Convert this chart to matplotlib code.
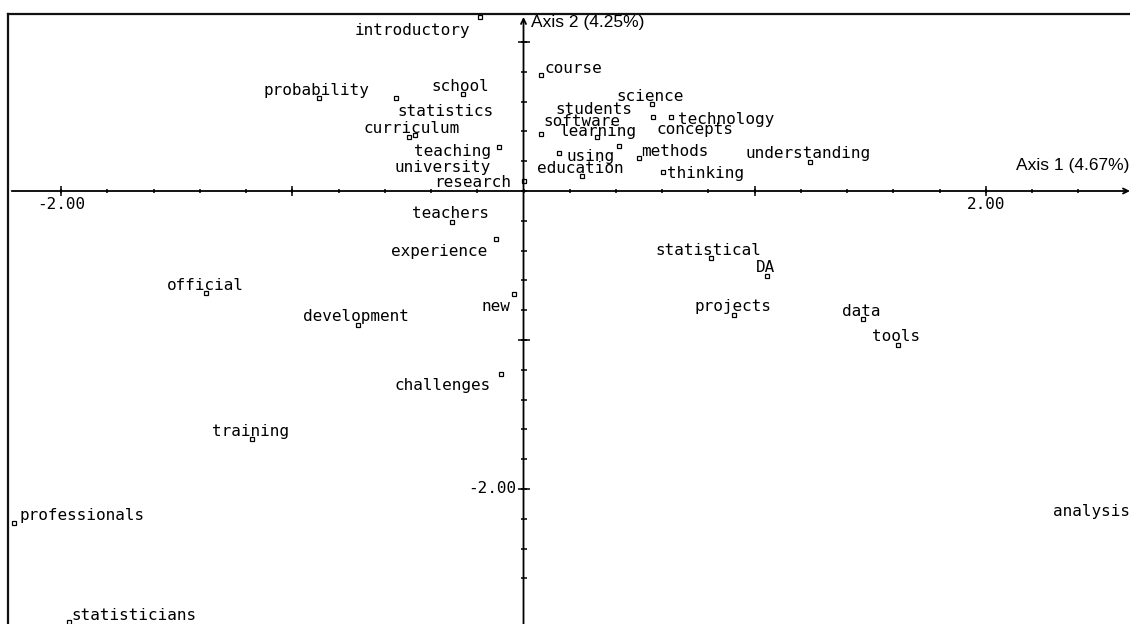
import matplotlib
matplotlib.use("Agg")
import matplotlib.pyplot as plt
import numpy as np

# ---------------- data ----------------
words = ["introductory", "probability", "statistics", "school", "curriculum",
         "university", "teaching", "research", "course", "science", "students",
         "technology", "software", "learning", "concepts", "methods", "using",
         "education", "thinking", "understanding", "teachers", "experience",
         "official", "development", "new", "challenges", "statistical", "DA",
         "projects", "data", "tools", "training", "professionals",
         "statisticians", "analysis"]

axis1 = [-0.190, -0.885, -0.550, -0.262, -0.495, -0.468, -0.105, 0.003,
         0.076, 0.554, 0.559, 0.637, 0.076, 0.317, 0.414, 0.498, 0.154,
         0.255, 0.602, 1.239, -0.310, -0.117, -1.372, -0.716, -0.040,
         -0.099, 0.811, 1.054, 0.910, 1.468, 1.619, -1.175, -2.202,
         -1.966, 2.700]

axis2 = [1.166, 0.622, 0.622, 0.649, 0.364, 0.376, 0.297, 0.067,
         0.779, 0.584, 0.495, 0.495, 0.381, 0.360, 0.304, 0.219, 0.253,
         0.103, 0.130, 0.193, -0.206, -0.324, -0.683, -0.899, -0.693,
         -1.228, -0.452, -0.570, -0.832, -0.859, -1.034, -1.666, -2.226,
         -2.891, -2.208]

axis1_title = "Axis 1 (4.67%)"
axis2_title = "Axis 2 (4.25%)"

x_tick_labels = {-2: "-2.00", 2: "2.00"}
y_tick_labels = {-2: "-2.00"}

# ---------------- layout (label offsets in pixels) ----------------
label_offsets = [(-67, -13.4), (-2, 8.3), (49.6, -12.7), (-2.2, 7.6), (2.6, 8.4),
                 (27, -33), (-46.8, -5), (-51.1, -1.7), (32.2, 6.7), (-1.9, 7.3),
                 (-58.4, 7.3), (55.2, -2), (41.2, 12.6), (1.9, 5.6), (75.5, 16.4),
                 (36.2, 6.6), (31.3, -2.7), (-2.1, 7.4), (43.2, -2.3), (-1.6, 8.3),
                 (-1, 7.7), (-57.4, -12.4), (-1.4, 7.7), (-2, 8.3), (-18.3, -12.4),
                 (-57.5, -12), (-2.5, 8.3), (-1.5, 8.7), (-0.8, 8.3), (-1.2, 7.3),
                 (-1.3, 8.3), (-1.3, 7.6), (67.9, 7), (64.9, 6.7), (-56.5, 8.3)]

MONO = "DejaVu Sans Mono"
SANS = "Liberation Sans"

fig = plt.figure(figsize=(11.3, 6.24), dpi=100)
fig.patch.set_facecolor("white")
ax = fig.add_axes([0.007345, -0.016026, 1.0015, 0.99439])
ax.set_xlim(-2.2284, 2.6665)
ax.set_ylim(-2.9732, 1.1913)
ax.set_xticks([])
ax.set_yticks([])
for s in ["right", "bottom"]:
    ax.spines[s].set_visible(False)
for s in ["top", "left"]:
    ax.spines[s].set_linewidth(1.6)
    ax.spines[s].set_color("#111111")

# axes through the origin with arrows
arrow = dict(arrowstyle="->", lw=1.3, color="black", shrinkA=0, shrinkB=0,
             mutation_scale=9)
ax.annotate("", xy=(2.6233, 0), xytext=(-2.2136, 0), arrowprops=arrow,
            annotation_clip=False, zorder=4)
ax.annotate("", xy=(0, 1.168), xytext=(0, -3.0), arrowprops=arrow,
            annotation_clip=False, zorder=4)

# tick marks
x_minor = np.round(np.arange(-2.0, 2.41, 0.2), 2)
x_major = np.array([-2, -1, 1, 2])
y_minor = np.round(np.arange(-2.6, 1.01, 0.2), 2)
y_major = np.array([-2, -1, 1])
ax.plot(x_minor, np.zeros_like(x_minor), ls="none", marker="|", ms=3.2,
        mew=1.1, color="black", zorder=4)
ax.plot(x_major, np.zeros_like(x_major), ls="none", marker="|", ms=6.5,
        mew=1.1, color="black", zorder=4)
ax.plot(np.zeros_like(y_minor), y_minor, ls="none", marker="_", ms=5,
        mew=1.1, color="black", zorder=4)
ax.plot(np.zeros_like(y_major), y_major, ls="none", marker="_", ms=8.6,
        mew=1.1, color="black", zorder=4)

for v, t in x_tick_labels.items():
    ax.annotate(t, xy=(v, 0), xytext=(0, -13), textcoords="offset pixels",
                ha="center", va="center", fontsize=11.5, family=MONO)
for v, t in y_tick_labels.items():
    ax.annotate(t, xy=(0, v), xytext=(-7, 0), textcoords="offset pixels",
                ha="right", va="center", fontsize=11.5, family=MONO)

ax.annotate(axis1_title, xy=(2.6233, 0), xytext=(-1, 26),
            textcoords="offset pixels", ha="right", va="center",
            fontsize=12.5, family=SANS, annotation_clip=False)
ax.annotate(axis2_title, xy=(0, 1.168), xytext=(7, -6),
            textcoords="offset pixels", ha="left", va="center",
            fontsize=12.5, family=SANS, annotation_clip=False)

# points
ax.plot(axis1, axis2, ls="none", marker="s", ms=3.2, mfc="white", mec="black",
        mew=0.9, zorder=3)

for w, x, y, (dx, dy) in zip(words, axis1, axis2, label_offsets):
    ax.annotate(w, xy=(x, y), xytext=(dx, dy), textcoords="offset pixels",
                ha="center", va="center", fontsize=11.5, family=MONO,
                annotation_clip=False, zorder=5)

fig.savefig("out.png", dpi=100, facecolor="white")
